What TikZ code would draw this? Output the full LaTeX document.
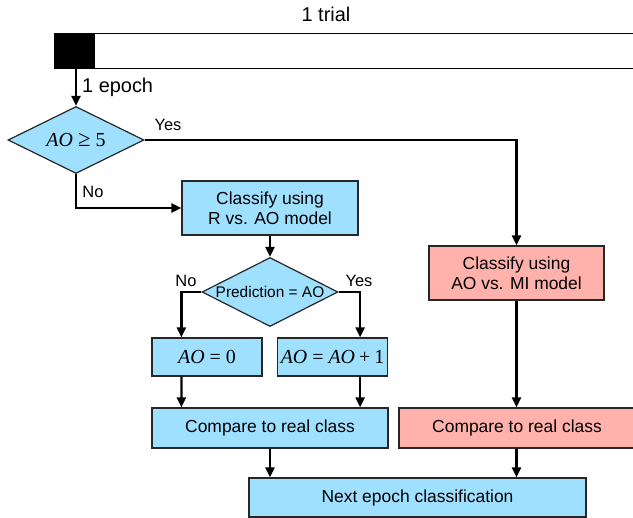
\documentclass[tikz,border=0pt]{standalone}
\usepackage{fontspec}
\setmainfont{Liberation Sans}
\newfontfamily\tms{Liberation Serif}
\usetikzlibrary{shapes.geometric,arrows.meta}
\definecolor{bl}{RGB}{160,224,255}
\definecolor{pk}{RGB}{255,178,172}
\newcommand{\mAO}{{\itshape AO}}
\begin{document}
\begin{tikzpicture}[x=1bp,y=-1bp,
  box/.style={draw=black!85, line width=1.2bp, inner sep=0pt, align=center,
    font=\fontsize{17.5}{20.5}\selectfont},
  dia/.style={draw=black!85, line width=1.2bp, shape=diamond, aspect=2, inner sep=0pt, fill=bl},
  arr/.style={line width=2.2bp, -{Triangle[length=10bp,width=9bp]}},
  lbl/.style={font=\fontsize{16.5}{19}\selectfont, inner sep=0pt},
  top/.style={font=\fontsize{20}{24}\selectfont, inner sep=0pt}]
\useasboundingbox (0,0) rectangle (633,518);
% trial bar
\node[top] (trial) at (326,14) {1 trial};
\node[draw=black, line width=1.2bp, fill=black, minimum width=40bp, minimum height=35bp, inner sep=0pt, anchor=north west] (blk) at (54,33) {};
\node[draw=black, line width=1.2bp, fill=white, minimum width=560bp, minimum height=35bp, inner sep=0pt, anchor=north west] (bar) at (94,33) {};
\node[top, anchor=west] (epoch) at (82,87) {1 epoch};
% first decision
\node[dia, minimum width=136bp, minimum height=67bp] (d1) at (76,140) {\tms\fontsize{20}{22}\selectfont\mAO\hspace{0.25em}{\fontsize{23}{22}\selectfont ≥}\hspace{0.25em}5};
\node[lbl] (yes1) at (168,125) {Yes};
\node[lbl] (no1) at (93,192) {No};
% left branch
\node[box, fill=bl, minimum width=176bp, minimum height=54bp] (rao) at (270,208) {Classify using\\R vs. AO model};
\node[dia, minimum width=136bp, minimum height=69bp, font=\fontsize{15.5}{18}\selectfont] (d2) at (270,292) {Prediction = AO};
\node[lbl] (no2) at (186,281) {No};
\node[lbl] (yes2) at (359,281) {Yes};
\node[box, fill=bl, minimum width=110bp, minimum height=38bp] (ao0) at (207,357) {\tms\fontsize{20}{22}\selectfont\mAO\hspace{0.25em}=\hspace{0.25em}0};
\node[box, fill=bl, minimum width=110bp, minimum height=38bp] (ao1) at (332.5,357) {\tms\fontsize{20}{22}\selectfont\mAO\hspace{0.25em}=\hspace{0.25em}\mAO\hspace{0.2em}+\hspace{0.2em}1};
\node[box, fill=bl, minimum width=236bp, minimum height=40bp] (cmp) at (270,428) {Compare to real class};
% right branch
\node[box, fill=pk, minimum width=175bp, minimum height=54bp] (mi) at (516.5,273) {Classify using\\AO vs. MI model};
\node[box, fill=pk, minimum width=236bp, minimum height=40bp] (cmpr) at (517,428) {Compare to real class};
% bottom
\node[box, fill=bl, minimum width=337bp, minimum height=39bp] (nxt) at (417.5,497.5) {Next epoch classification};
% connectors
\draw[arr] (d1.north |- blk.south) -- (d1.north);
\draw[arr] (d1.east) -| (mi.north);
\draw[arr] (d1.south) |- (rao.west);
\draw[arr] (rao.south) -- (d2.north);
\draw[arr] (d2.west) -| ([xshift=30bp]ao0.north west);
\draw[arr] (d2.east) -| ([xshift=-28bp]ao1.north east);
\draw[arr] ([xshift=30bp]ao0.south west) -- ([xshift=30bp]cmp.north west);
\draw[arr] ([xshift=-28bp]ao1.south east) coordinate (t1) -- (t1 |- cmp.north);
\draw[arr] (mi.south) -- (mi.south |- cmpr.north);
\draw[arr] (cmp.south) -- (cmp.south |- nxt.north);
\draw[arr] (mi.south |- cmpr.south) -- (mi.south |- nxt.north);
\end{tikzpicture}
\end{document}
